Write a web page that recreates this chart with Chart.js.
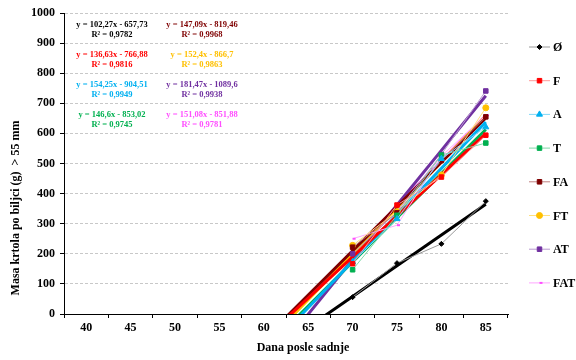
<!DOCTYPE html>
<html>
<head>
<meta charset="utf-8">
<title>Masa krtola po biljci</title>
<script src="https://cdn.jsdelivr.net/npm/chart.js@4.4.1/dist/chart.umd.min.js"></script>
<style>
  html, body { margin: 0; padding: 0; background: #fff; }
  .chart-container { width: 576px; height: 360px; }
</style>
</head>
<body>
<div class="chart-container">
  <canvas id="krtolaChart"></canvas>
</div>
<script>
// x categories (days after planting) and the days that were measured
const days = [40, 45, 50, 55, 60, 65, 70, 75, 80, 85];
const measuredDays = [70, 75, 80, 85];

// mass of tubers per plant (g), tubers > 55 mm
const massO = [56, 169, 233, 375];
const massF = [167, 362, 455, 594];
const massA = [173, 316, 516, 621];
const massT = [147, 328, 528, 568];
const massFA = [222, 336, 510, 655];
const massFT = [228, 340, 462, 685];
const massAT = [200, 340, 530, 741];
const massFAT = [250, 295, 525, 660];

// linear trendlines, x = category number (1..10)
const slopes = [102.27, 136.63, 154.25, 146.6, 147.09, 152.4, 181.47, 151.08];
const intercepts = [-657.73, -766.88, -904.51, -853.02, -819.46, -866.7, -1089.6, -851.88];
const rSquared = [0.9782, 0.9816, 0.9949, 0.9745, 0.9968, 0.9863, 0.9938, 0.9781];

const names = ['Ø', 'F', 'A', 'T', 'FA', 'FT', 'AT', 'FAT'];
const series = [massO, massF, massA, massT, massFA, massFT, massAT, massFAT];
const colors = ['#000000', '#ff0000', '#00b0f0', '#00b050', '#7f0000', '#ffc000', '#7030a0', '#ff4dff'];
const lineColors = ['#999999', '#ff9999', '#80d8f8', '#80d8a8', '#bf8080', '#ffe080', '#b898d0', '#ffa6ff'];
const markers = ['rectRot', 'rect', 'triangle', 'rect', 'rect', 'circle', 'rect', 'dash'];
const markerSize = [2.5, 3.2, 3.5, 3.2, 3.2, 3, 3.2, 3];

Chart.defaults.font.family = '"Liberation Serif", "Times New Roman", serif';
Chart.defaults.font.weight = 'bold';
Chart.defaults.color = '#000';

const fmt = v => String(v).replace('.', ',');
const equation = i => 'y = ' + fmt(slopes[i]) + 'x - ' + fmt(Math.abs(intercepts[i]));

const datasets = [];
series.forEach((vals, i) => {
  datasets.push({
    label: names[i],
    data: days.map(d => {
      const k = measuredDays.indexOf(d);
      return k < 0 ? null : vals[k];
    }),
    borderColor: lineColors[i],
    borderWidth: 1,
    pointStyle: markers[i],
    pointRadius: markerSize[i],
    pointBackgroundColor: colors[i],
    pointBorderColor: colors[i],
    pointBorderWidth: markers[i] === 'dash' ? 2 : 1,
    order: 1
  });
});
series.forEach((vals, i) => {
  datasets.push({
    label: names[i] + ' trend',
    data: days.map((d, k) => slopes[i] * (k + 1) + intercepts[i]),
    borderColor: colors[i],
    borderWidth: 3,
    pointRadius: 0,
    order: 2
  });
});

const extras = {
  id: 'extras',
  afterDraw(chart) {
    const ctx = chart.ctx;
    const area = chart.chartArea;
    ctx.save();

    // trendline equations, two columns
    ctx.font = 'bold 8.5px "Liberation Serif"';
    ctx.textAlign = 'center';
    ctx.textBaseline = 'middle';
    names.forEach((n, i) => {
      const x = area.left + 48 + Math.floor(i / 4) * 90;
      const y = area.top + 12 + (i % 4) * 30;
      ctx.fillStyle = colors[i];
      ctx.fillText(equation(i), x, y);
      ctx.fillText('R² = ' + fmt(rSquared[i]), x, y + 9.5);
    });

    // axis titles
    ctx.fillStyle = '#000';
    ctx.font = 'bold 12px "Liberation Serif"';
    ctx.fillText('Dana posle sadnje', 303, 348);
    ctx.save();
    ctx.translate(16, 208);
    ctx.rotate(-Math.PI / 2);
    ctx.fillText('Masa krtola po biljci (g)  > 55 mm', 0, 0);
    ctx.restore();

    // legend
    ctx.textAlign = 'left';
    names.forEach((n, i) => {
      const y = 47 + i * 33.7;
      ctx.strokeStyle = lineColors[i];
      ctx.lineWidth = 1;
      ctx.beginPath();
      ctx.moveTo(529, y);
      ctx.lineTo(550, y);
      ctx.stroke();
      ctx.fillStyle = colors[i];
      ctx.strokeStyle = colors[i];
      ctx.lineWidth = markers[i] === 'dash' ? 2 : 1;
      Chart.helpers.drawPoint(ctx, {pointStyle: markers[i], radius: markerSize[i], rotation: 0, borderWidth: ctx.lineWidth}, 539.5, y);
      ctx.fillStyle = '#000';
      ctx.fillText(n, 553, y + 1);
    });
    ctx.restore();
  }
};

new Chart(document.getElementById('krtolaChart'), {
  type: 'line',
  data: { labels: days, datasets: datasets },
  options: {
    responsive: true,
    maintainAspectRatio: false,
    animation: false,
    devicePixelRatio: 1,
    layout: { padding: { left: 0, top: 13, right: 68, bottom: 0 } },
    plugins: { legend: { display: false }, tooltip: { enabled: false } },
    scales: {
      x: {
        type: 'category',
        offset: true,
        afterFit: s => { s.height = 46; },
        grid: { offset: true, drawOnChartArea: false, tickLength: 4, tickColor: '#000' },
        border: { color: '#000', width: 1 },
        ticks: { font: { size: 12, weight: 'bold' }, padding: 3, maxRotation: 0 }
      },
      y: {
        min: 0,
        max: 1000,
        afterFit: s => { s.width = 64; },
        grid: {
          color: '#c8c8c8',
          lineWidth: 1,
          tickLength: 4,
          tickColor: '#000'
        },
        border: { color: '#000', width: 1, dash: [3, 2] },
        ticks: {
          stepSize: 100,
          font: { size: 12, weight: 'bold' },
          padding: 5,
          callback: v => String(v)
        }
      }
    }
  },
  plugins: [extras]
});
</script>
</body>
</html>
